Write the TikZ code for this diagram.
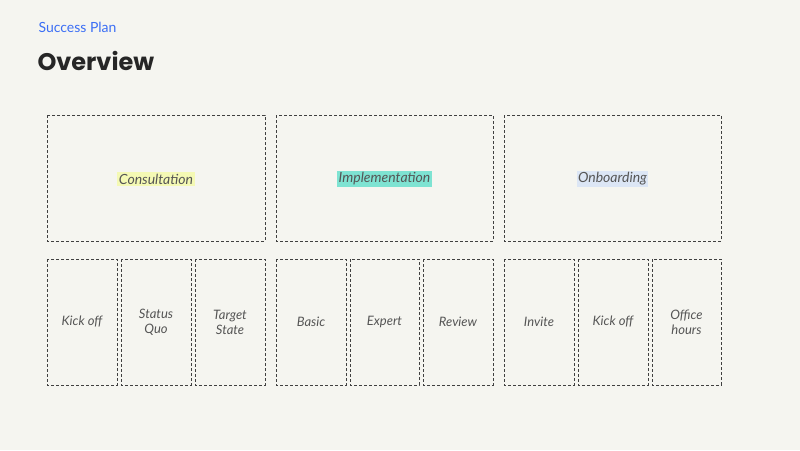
\documentclass[tikz,border=0pt]{standalone}
\usepackage{fontspec}
\setmainfont{Lato}
\newfontfamily\titlefont{Poppins}
\definecolor{bg}{HTML}{F5F5F0}
\definecolor{blu}{HTML}{3B6EF5}
\definecolor{txt}{HTML}{555555}
\definecolor{hy}{HTML}{F4F9B4}
\definecolor{ht}{HTML}{7EE3D2}
\definecolor{hb}{HTML}{DCE6F5}
\tikzset{
 box/.style={draw=black!75, dashed, dash pattern=on 3pt off 2pt, line width=0.7pt, inner sep=0pt},
 lbl/.style={text=txt, font=\itshape\fontsize{13}{15}\selectfont, align=center},
 hl/.style={inner sep=1.5pt, text=txt, font=\itshape\fontsize{14}{16}\selectfont}
}
\begin{document}
\begin{tikzpicture}[x=1pt,y=-1pt]
\fill[bg] (0,0) rectangle (800,450);
\useasboundingbox (0,0) rectangle (800,450);
\node[anchor=west, text=blu, font=\fontsize{14}{16}\selectfont] (sp) at (35,27) {Success Plan};
\node[anchor=west, text=black!85, font=\titlefont\bfseries\fontsize{24}{28}\selectfont] (ov) at (34,61) {Overview};
\draw[box] (47,115) rectangle (265,241);
\draw[box] (276,115) rectangle (493,241);
\draw[box] (504,115) rectangle (721,241);
\node[hl, fill=hy] (c) at (156,179) {Consultation};
\node[hl, fill=ht] (i) at (384.5,179) {Implementation};
\node[hl, fill=hb] (o) at (612.5,179) {Onboarding};
\foreach \a/\b/\t [count=\k] in {47/117/Kick off,121/191/Status\\Quo,195/265/Target\\State,276/346/Basic,350/419/Expert,423/493/Review,504/574/Invite,578/648/Kick off,652/721/Office\\hours}{
 \draw[box] (\a,259) rectangle (\b,385);
 \node[lbl] (s\k) at ({(\a+\b)/2},322) {\t};
}
\end{tikzpicture}
\end{document}
